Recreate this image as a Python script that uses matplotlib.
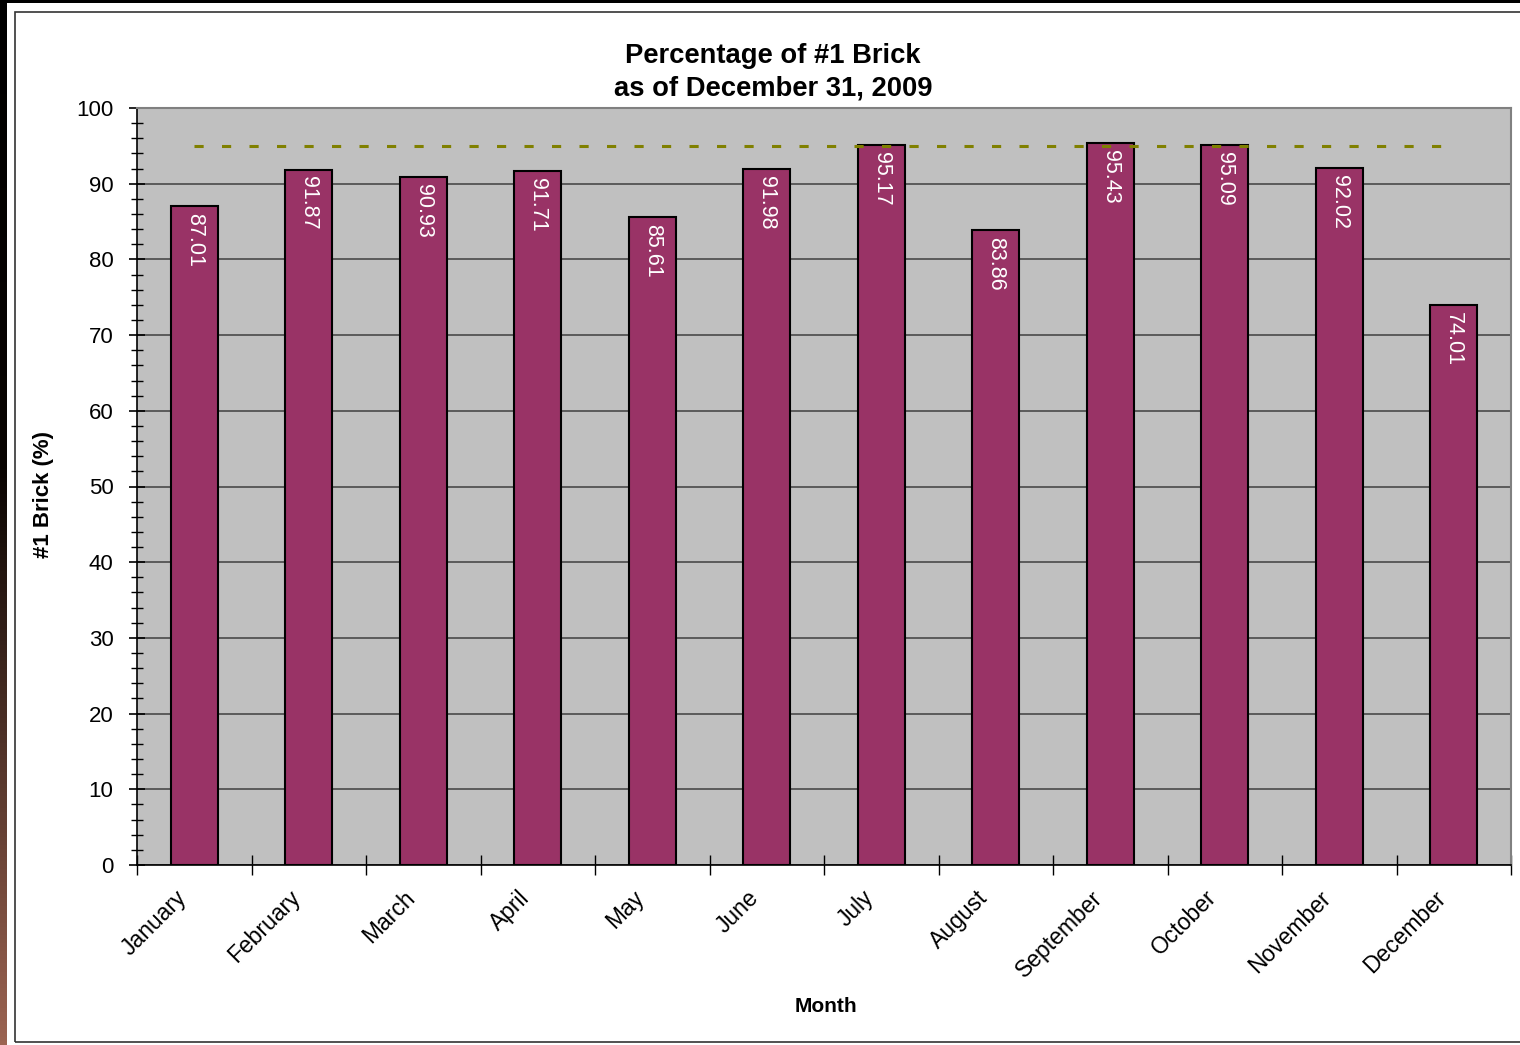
import numpy as np
import matplotlib
matplotlib.use("Agg")
import matplotlib.pyplot as plt
from matplotlib.patches import Rectangle
from matplotlib.colors import LinearSegmentedColormap

plt.rcParams['font.family'] = ['Liberation Sans', 'DejaVu Sans']

months = ["January", "February", "March", "April", "May", "June", "July",
          "August", "September", "October", "November", "December"]
pct = [87.01, 91.87, 90.93, 91.71, 85.61, 91.98, 95.17, 83.86, 95.43, 95.09, 92.02, 74.01]
target = 95

W, H = 1520, 1045
fig = plt.figure(figsize=(W / 100, H / 100), dpi=100)
fig.patch.set_facecolor("white")

# dark page edge on the left / top
strip = fig.add_axes([0, 0, 7 / W, 1])
grad = np.linspace(0, 1, 256).reshape(-1, 1)
cmap = LinearSegmentedColormap.from_list("edge", [(0, "#000000"), (0.45, "#0a0502"), (1, "#9c6452")])
strip.imshow(grad[::-1], aspect="auto", cmap=cmap, extent=[0, 1, 0, 1], origin="lower")
strip.axis("off")
fig.patches.append(Rectangle((0, 1 - 3 / H), 1, 3 / H, transform=fig.transFigure,
                             facecolor="black", edgecolor="none"))
# chart frame
fig.patches.append(Rectangle((15 / W, 3 / H), 1, 1 - 15 / H, transform=fig.transFigure,
                             facecolor="none", edgecolor="#333333", lw=1.2))

ax = fig.add_axes([137 / W, 180 / H, (1511 - 137) / W, (865 - 108) / H])
ax.set_facecolor("#C0C0C0")
x = np.arange(len(months))
bars = ax.bar(x, pct, width=0.41, color="#993366", edgecolor="black", linewidth=1.5, zorder=3)
ax.plot([x[0], x[-1]], [target, target], color="#808000", lw=2.2, dashes=(3, 6), zorder=4)

for xi, v in zip(x, pct):
    ax.annotate(f"{v:.2f}", (xi, v), xytext=(0, -5), textcoords="offset points",
                rotation=-90, ha="center", va="top", color="white", fontsize=15.5, zorder=5)

ax.set_xlim(-0.5, 11.5)
ax.set_ylim(0, 100)
ax.set_yticks(np.arange(0, 101, 10))
ax.set_yticks(np.arange(0, 101, 2), minor=True)
ax.yaxis.grid(True, which="major", color="#4a4a4a", lw=1.2, zorder=1)
ax.set_axisbelow(True)
ax.tick_params(axis="y", which="major", direction="inout", length=12, width=1.2, labelsize=16, pad=11)
ax.tick_params(axis="y", which="minor", direction="inout", length=9, width=1)

# month labels sit a little left of the bar centres, like the original
ax.set_xticks(x - 0.1)
ax.set_xticklabels(months, rotation=45, ha="right", va="center", rotation_mode="anchor", fontsize=16.5)
ax.set_xticks(np.arange(-0.5, 12, 1), minor=True)
ax.tick_params(axis="x", which="major", length=0, pad=21)
ax.tick_params(axis="x", which="minor", direction="inout", length=14, width=1)

for s in ["left", "bottom"]:
    ax.spines[s].set_color("black")
    ax.spines[s].set_linewidth(1.2)
for s in ["top", "right"]:
    ax.spines[s].set_color("#808080")
    ax.spines[s].set_linewidth(1.5)

fig.text(773 / W, 1 - 72 / H, "Percentage of #1 Brick\nas of December 31, 2009", ha="center", va="center",
         fontsize=19.7, fontweight="bold", linespacing=1.3)
fig.text(43 / W, 1 - 495 / H, "#1 Brick (%)", rotation=90, ha="center", va="center",
         fontsize=16, fontweight="bold")
fig.text(826 / W, 1 - 1007 / H, "Month", ha="center", va="center", fontsize=15, fontweight="bold")

fig.savefig("out.png", dpi=100)
